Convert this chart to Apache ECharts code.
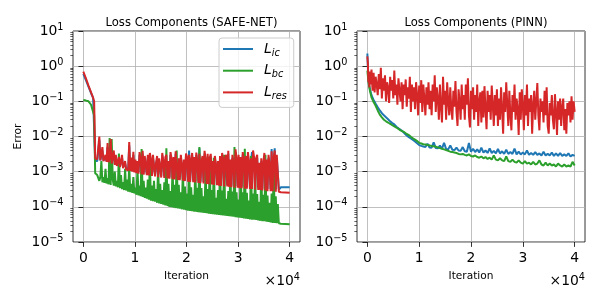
<!DOCTYPE html>
<html><head><meta charset="utf-8">
<script src="https://cdn.jsdelivr.net/npm/echarts@6/dist/echarts.min.js"></script>
<style>html,body{margin:0;padding:0;background:#fff}#c{width:600px;height:300px}</style>
</head><body><div id="c"></div>
<script>
// ---------- SAFE-NET (left panel) ----------
const safeIter = [0,500,1000,1500,1900,2100,2300,
2500,2700,2900,3100,3300,3500,3700,3900,4100,4300,
4500,4700,4900,5100,5300,5500,5700,5900,6100,6300,
6500,6700,6900,7100,7300,7500,7700,7900,8100,8300,
8500,8700,8900,9100,9300,9500,9700,9900,10100,10300,
10500,10700,10900,11100,11300,11500,11700,11900,12100,12300,
12500,12700,12900,13100,13300,13500,13700,13900,14100,14300,
14500,14700,14900,15100,15300,15500,15700,15900,16100,16300,
16500,16700,16900,17100,17300,17500,17700,17900,18100,18300,
18500,18700,18900,19100,19300,19500,19700,19900,20100,20300,
20500,20700,20900,21100,21300,21500,21700,21900,22100,22300,
22500,22700,22900,23100,23300,23500,23700,23900,24100,24300,
24500,24700,24900,25100,25300,25500,25700,25900,26100,26300,
26500,26700,26900,27100,27300,27500,27700,27900,28100,28300,
28500,28700,28900,29100,29300,29500,29700,29900,30100,30300,
30500,30700,30900,31100,31300,31500,31700,31900,32100,32300,
32500,32700,32900,33100,33300,33500,33700,33900,34100,34300,
34500,34700,34900,35100,35300,35500,35700,35900,36100,36300,
36500,36700,36900,37100,37300,37500,37700,37900,
38300,40000];
const safeIc = [0.60,0.40,0.26,0.17,0.125,0.11,2.0e-3,
2.0e-3,2.0e-3,2.0e-3,8.0e-3,2.1e-3,2.2e-3,4.0e-3,2.1e-3,2.1e-3,2.5e-3,
2.0e-3,5.0e-3,1.9e-3,2.2e-3,7.0e-3,1.8e-3,1.75e-3,3.2e-3,1.65e-3,2.5e-3,
1.55e-3,1.5e-3,2.2e-3,1.45e-3,1.4e-3,2.5e-3,1.35e-3,1.3e-3,1.7e-3,1.25e-3,
1.2e-3,1.2e-3,5.5e-3,1.15e-3,2.0e-3,1.1e-3,3.0e-3,1.05e-3,1.8e-3,1.0e-3,
1.7e-3,9.7e-4,3.0e-3,2.0e-3,9.2e-4,3.3e-3,9.0e-4,2.3e-3,1.4e-3,8.8e-4,
2.5e-3,8.6e-4,2.9e-3,1.8e-3,8.3e-4,2.5e-3,2.3e-3,8.0e-4,1.5e-3,2.3e-3,
7.7e-4,2.0e-3,1.2e-3,7.5e-4,2.9e-3,1.7e-3,7.3e-4,2.2e-3,2.5e-3,7.0e-4,
1.7e-3,6.9e-4,3.0e-3,2.0e-3,6.7e-4,2.2e-3,6.6e-4,3.2e-3,1.3e-3,6.4e-4,
2.0e-3,6.3e-4,2.5e-3,1.4e-3,6.1e-4,1.8e-3,5.9e-4,2.8e-3,2.2e-3,5.7e-4,
4.0e-3,5.6e-4,1.8e-3,2.9e-3,5.5e-4,2.2e-3,5.4e-4,3.0e-3,1.7e-3,5.3e-4,
4.6e-3,5.2e-4,1.7e-3,2.4e-3,5.1e-4,3.3e-3,1.8e-3,5.0e-4,2.7e-3,4.8e-4,
2.1e-3,2.7e-3,4.7e-4,1.7e-3,4.6e-4,2.4e-3,1.4e-3,4.5e-4,1.7e-3,4.4e-4,
2.4e-3,4.3e-4,2.9e-3,1.9e-3,4.2e-4,2.2e-3,2.5e-3,4.2e-4,3.3e-3,4.1e-4,
1.9e-3,4.0e-4,2.5e-3,1.5e-3,3.9e-4,3.6e-3,2.0e-3,3.9e-4,2.5e-3,3.8e-4,
2.2e-3,3.8e-4,3.0e-3,1.9e-3,3.7e-4,2.4e-3,3.7e-4,3.0e-3,1.7e-3,3.6e-4,
2.0e-3,3.6e-3,3.4e-3,2.2e-3,3.5e-4,2.0e-3,2.5e-3,3.4e-4,1.5e-3,3.4e-4,
2.0e-3,3.3e-4,1.5e-3,2.9e-3,3.3e-4,1.9e-3,3.2e-4,2.5e-3,1.4e-3,3.2e-4,
4.4e-3,3.1e-4,2.1e-3,4.6e-3,3.1e-4,2.5e-3,2.4e-3,3.1e-4,
3.6e-4,3.6e-4];
const safeBc = [0.11,0.105,0.10,0.08,0.05,0.04,9.0e-4,
8.5e-4,8.0e-4,7.5e-4,5.5e-4,7.0e-4,2.0e-3,5.0e-4,7.0e-4,4.8e-4,1.2e-3,
4.6e-4,6.5e-4,4.4e-4,9.0e-3,4.2e-4,8.5e-3,6.0e-4,4.0e-4,1.0e-3,3.8e-4,
5.5e-4,3.6e-4,3.3e-3,3.4e-4,8.0e-4,3.2e-4,5.0e-4,3.0e-4,1.2e-3,2.9e-4,
6.0e-4,2.7e-4,1.5e-3,2.6e-4,4.5e-4,2.5e-4,7.0e-4,2.4e-4,3.5e-4,2.2e-4,
1.2e-3,2.1e-4,4.0e-4,2.0e-4,4.4e-3,1.9e-4,5.5e-4,1.8e-4,3.5e-4,1.7e-4,
6.0e-4,1.6e-4,2.0e-3,1.5e-4,4.0e-4,1.45e-4,5.5e-4,1.4e-4,3.2e-4,1.3e-4,
1.5e-3,1.25e-4,4.5e-4,1.2e-4,3.0e-4,1.15e-4,5.0e-4,1.1e-4,4.6e-3,1.05e-4,
4.5e-4,1.0e-4,2.8e-4,9.8e-5,1.5e-3,9.5e-5,4.2e-4,9.2e-5,4.0e-3,9.0e-5,
4.2e-4,8.8e-5,2.6e-4,8.5e-5,1.2e-3,8.3e-5,3.8e-4,8.0e-5,2.4e-4,7.8e-5,
2.6e-3,7.6e-5,3.6e-4,7.5e-5,2.2e-4,7.3e-5,1.6e-3,7.2e-5,3.5e-4,7.0e-5,
5.0e-3,6.9e-5,3.4e-4,6.8e-5,2.0e-4,6.7e-5,1.5e-3,6.6e-5,3.2e-4,6.4e-5,
2.2e-3,6.3e-5,3.0e-4,6.2e-5,2.5e-3,6.1e-5,1.8e-4,6.0e-5,3.0e-4,5.9e-5,
1.8e-3,5.8e-5,2.9e-4,5.7e-5,3.0e-3,5.6e-5,1.7e-4,5.5e-5,2.8e-4,5.4e-5,
1.4e-3,5.3e-5,2.7e-4,5.2e-5,5.0e-3,5.1e-5,2.6e-4,5.0e-5,1.6e-4,4.9e-5,
2.0e-3,4.8e-5,2.6e-4,4.7e-5,4.5e-3,4.6e-5,2.5e-4,4.5e-5,1.5e-4,4.4e-5,
2.8e-3,4.3e-5,2.4e-4,4.3e-5,1.2e-3,4.2e-5,2.3e-4,4.1e-5,1.4e-4,4.0e-5,
1.5e-3,3.9e-5,2.2e-4,3.9e-5,3.0e-3,3.8e-5,2.1e-4,3.7e-5,1.3e-4,3.6e-5,
2.4e-4,3.5e-5,1.8e-3,3.5e-5,2.0e-4,3.4e-5,1.2e-4,3.4e-5,
3.3e-5,3.2e-5];
const safeRes = [0.70,0.45,0.28,0.18,0.125,0.10,2.4e-3,
2.3e-3,2.25e-3,2.2e-3,1.0e-2,2.1e-3,2.1e-3,5.0e-3,2.0e-3,2.0e-3,3.0e-3,
1.9e-3,6.5e-3,1.85e-3,2.5e-3,8.5e-3,1.7e-3,1.65e-3,4.0e-3,1.55e-3,3.0e-3,
1.45e-3,1.4e-3,2.6e-3,1.35e-3,1.3e-3,3.0e-3,1.25e-3,1.2e-3,2.0e-3,1.15e-3,
1.12e-3,1.1e-3,7.0e-3,1.05e-3,2.5e-3,1.0e-3,3.7e-3,9.5e-4,2.2e-3,9.0e-4,
2.0e-3,8.8e-4,3.6e-3,2.4e-3,8.4e-4,3.9e-3,8.2e-4,2.8e-3,1.6e-3,8.0e-4,
3.0e-3,7.8e-4,3.4e-3,2.2e-3,7.5e-4,3.0e-3,2.8e-3,7.3e-4,1.8e-3,2.8e-3,
7.0e-4,2.4e-3,1.4e-3,6.8e-4,3.4e-3,2.0e-3,6.6e-4,2.6e-3,3.0e-3,6.4e-4,
2.0e-3,6.3e-4,3.6e-3,2.4e-3,6.1e-4,2.6e-3,6.0e-4,3.8e-3,1.5e-3,5.8e-4,
2.4e-3,5.7e-4,3.0e-3,1.6e-3,5.5e-4,2.2e-3,5.4e-4,3.3e-3,2.6e-3,5.2e-4,
3.0e-3,5.1e-4,2.2e-3,3.4e-3,5.0e-4,2.6e-3,4.9e-4,3.5e-3,2.0e-3,4.8e-4,
3.2e-3,4.7e-4,2.0e-3,2.8e-3,4.6e-4,3.9e-3,2.2e-3,4.5e-4,3.2e-3,4.4e-4,
2.5e-3,3.2e-3,4.3e-4,2.0e-3,4.2e-4,2.8e-3,1.6e-3,4.1e-4,2.0e-3,4.0e-4,
2.8e-3,3.9e-4,3.4e-3,2.2e-3,3.8e-4,2.6e-3,3.0e-3,3.8e-4,3.9e-3,3.7e-4,
2.2e-3,3.6e-4,3.0e-3,1.8e-3,3.5e-4,4.3e-3,2.4e-3,3.5e-4,3.0e-3,3.4e-4,
2.6e-3,3.4e-4,3.6e-3,2.2e-3,3.3e-4,2.8e-3,3.3e-4,3.6e-3,2.0e-3,3.2e-4,
2.4e-3,3.2e-4,4.0e-3,2.6e-3,3.1e-4,2.4e-3,3.0e-3,3.0e-4,1.8e-3,3.0e-4,
2.4e-3,2.9e-4,1.8e-3,3.4e-3,2.9e-4,2.2e-3,2.8e-4,3.0e-3,1.6e-3,2.8e-4,
3.8e-3,2.8e-4,2.5e-3,4.0e-3,2.7e-4,3.0e-3,2.9e-3,2.7e-4,
2.6e-4,2.5e-4];

// ---------- PINN (right panel) ----------
const pinnIter = [0,150,300,500,
800,1200,1600,2000,2400,2800,3200,3600,4000,4400,4800,5200,5600,6000,6400,6800,7200,7600,8000,8400,8800,9200,9600,10000,
10400,10800,11200,11600,12000,12400,12800,13200,13600,14000,14400,14800,15200,15600,16000,16400,16800,17200,17600,18000,
18400,18800,19200,19600,20000,20400,20800,21200,21600,22000,22400,22800,23200,23600,24000,24400,24800,25200,25600,26000,
26400,26800,27200,27600,28000,28400,28800,29200,29600,30000,30400,30800,31200,31600,32000,32400,32800,33200,33600,34000,
34400,34800,35200,35600,36000,36400,36800,37200,37600,38000,38400,38800,39200,39600,40000];
const pinnIc = [2.3,0.6,0.3,0.22,
0.15,0.11,0.085,0.068,0.055,0.046,0.04,0.035,0.031,0.027,0.024,0.022,0.019,0.017,0.0155,0.014,0.0122,0.0107,0.0096,0.0088,0.008,0.0072,0.0064,0.0057,
0.0054,0.0052,0.005,0.0062,0.0049,0.0048,0.0068,0.0047,0.0046,0.0055,0.0045,0.0066,0.0044,0.0043,0.0056,0.0042,0.0041,0.0048,0.004,0.0039,
0.005,0.0038,0.0037,0.0065,0.0037,0.0045,0.0036,0.0043,0.0035,0.0048,0.0035,0.004,0.0034,0.0046,0.0034,0.0039,0.0033,0.0044,0.0033,0.0038,
0.0032,0.0042,0.0032,0.0036,0.0032,0.0045,0.0031,0.0037,0.0031,0.0035,0.0031,0.004,0.003,0.0034,0.003,0.0036,0.003,0.0033,0.0029,0.0037,
0.0029,0.0032,0.0029,0.0035,0.0028,0.0033,0.0028,0.0034,0.0028,0.0031,0.0028,0.0033,0.0027,0.003,0.0028];
const pinnBc = [0.75,0.45,0.3,0.2,
0.13,0.095,0.075,0.055,0.042,0.035,0.03,0.027,0.025,0.023,0.021,0.0195,0.018,0.0165,0.015,0.014,0.013,0.0118,0.011,0.0098,0.0088,0.0082,0.0074,0.0066,
0.0063,0.006,0.0059,0.0057,0.0056,0.0054,0.0053,0.0051,0.0049,0.0047,0.0045,0.0043,0.0041,0.0039,0.0037,0.0036,0.0035,0.0034,0.0032,0.0031,
0.0032,0.003,0.0029,0.0031,0.0028,0.0027,0.0029,0.0026,0.0025,0.0027,0.0024,0.0026,0.0023,0.0025,0.0022,0.0029,0.0022,0.0021,0.0024,0.0021,
0.002,0.0027,0.002,0.0019,0.0022,0.0019,0.0018,0.0021,0.0018,0.0017,0.002,0.0017,0.0018,0.0016,0.0019,0.0016,0.0017,0.0021,0.0016,0.0015,
0.0018,0.0015,0.0017,0.0015,0.0016,0.0014,0.0017,0.0015,0.0014,0.0016,0.0014,0.0015,0.0014,0.0019,0.0015];
const pinnResIter = [0,100,200,300,400,500,
600,800,1000,1200,1400,1600,1800,2000,2200,2400,
2600,2800,3000,3200,3400,3600,3800,4000,4200,4400,
4600,4800,5000,5200,5400,5600,5800,6000,6200,6400,
6600,6800,7000,7200,7400,7600,7800,8000,8200,8400,
8600,8800,9000,9200,9400,9600,9800,10000,10200,10400,
10600,10800,11000,11200,11400,11600,11800,12000,12200,12400,
12600,12800,13000,13200,13400,13600,13800,14000,14200,14400,
14600,14800,15000,15200,15400,15600,15800,16000,16200,16400,
16600,16800,17000,17200,17400,17600,17800,18000,18200,18400,
18600,18800,19000,19200,19400,19600,19800,20000,20200,20400,
20600,20800,21000,21200,21400,21600,21800,22000,22200,22400,
22600,22800,23000,23200,23400,23600,23800,24000,24200,24400,
24600,24800,25000,25200,25400,25600,25800,26000,26200,26400,
26600,26800,27000,27200,27400,27600,27800,28000,28200,28400,
28600,28800,29000,29200,29400,29600,29800,30000,30200,30400,
30600,30800,31000,31200,31400,31600,31800,32000,32200,32400,
32600,32800,33000,33200,33400,33600,33800,34000,34200,34400,
34600,34800,35000,35200,35400,35600,35800,36000,36200,36400,
36600,36800,37000,37200,37400,37600,37800,38000,38200,38400,
38600,38800,39000,39200,39400,39600,39800,40000];
const pinnRes = [1.9,1.2,0.35,0.5,0.25,0.7,
0.3,0.8,0.2,0.65,0.18,0.5,0.3,0.15,0.6,0.22,
0.9,0.12,0.45,0.2,0.55,0.1,0.35,0.25,0.09,0.5,
0.2,0.4,0.12,0.75,0.15,0.3,0.08,0.45,0.2,0.1,
0.35,0.06,0.3,0.15,0.42,0.07,0.25,0.12,0.5,0.05,
0.3,0.1,0.25,0.06,0.35,0.15,0.04,0.28,0.09,0.4,
0.05,0.3,0.12,0.04,0.25,0.08,0.35,0.06,0.2,0.04,
0.3,0.1,0.55,0.05,0.25,0.12,0.03,0.3,0.07,0.025,
0.5,0.08,0.2,0.03,0.35,0.1,0.04,0.25,0.06,0.03,
0.2,0.07,0.38,0.05,0.02,0.22,0.1,0.03,0.3,0.06,
0.15,0.03,0.3,0.08,0.45,0.04,0.018,0.2,0.06,0.25,
0.03,0.15,0.05,0.3,0.02,0.1,0.18,0.025,0.2,0.035,
0.27,0.06,0.016,0.2,0.05,0.15,0.03,0.28,0.08,0.02,
0.15,0.04,0.22,0.02,0.12,0.03,0.25,0.06,0.012,0.18,
0.05,0.35,0.08,0.02,0.2,0.04,0.015,0.15,0.05,0.3,
0.03,0.12,0.06,0.011,0.18,0.03,0.22,0.08,0.015,0.15,
0.04,0.3,0.02,0.12,0.05,0.15,0.012,0.08,0.2,0.03,
0.1,0.33,0.04,0.015,0.12,0.05,0.1,0.025,0.2,0.04,
0.25,0.02,0.012,0.09,0.04,0.15,0.03,0.016,0.16,0.05,
0.011,0.1,0.03,0.12,0.02,0.07,0.12,0.015,0.06,0.012,
0.09,0.04,0.1,0.025,0.14,0.03,0.1,0.05];

// ---------- ticks / labels ----------
const xTickValues = [0,10000,20000,30000,40000];
const yTickValues = [1e-5,1e-4,1e-3,1e-2,1e-1,1,10];
const seriesNames = ['L_ic','L_bc','L_res'];
const seriesSub = {L_ic:'ic', L_bc:'bc', L_res:'res'};
const panelTitles = ['Loss Components (SAFE-NET)','Loss Components (PINN)'];
const colors = ['#1f77b4','#2ca02c','#d62728'];

const minorTicks = [];
for (let e = -5; e <= 0; e++) for (let m = 2; m <= 9; m++) minorTicks.push(m * Math.pow(10, e));

const FONT = 'DejaVu Sans';
const TICK_FS = 13.9;
const supRich = { sup: { fontSize: 9.7, fontFamily: FONT, color: '#000', verticalAlign: 'top', lineHeight: 8 } };

function pairs(xs, ys) { return xs.map((x, i) => [x, ys[i]]); }
function expLabel(v) {
  const e = Math.round(Math.log10(v));
  return '10{sup|' + (e < 0 ? '\u2212' + (-e) : String(e)) + '}';
}

function xAxisFor(gi) {
  return {
    type: 'value', gridIndex: gi, min: -2000, max: 42000,
    name: 'Iteration', nameLocation: 'middle', nameGap: 27,
    nameTextStyle: { fontFamily: FONT, fontSize: 10.6, color: '#000' },
    axisLine: { show: false },
    axisTick: { show: true, customValues: xTickValues, length: 4.9, lineStyle: { color: '#000', width: 0.8 } },
    axisLabel: { customValues: xTickValues, margin: 9.5, fontFamily: FONT, fontSize: TICK_FS, color: '#000',
                 formatter: v => String(Math.round(v / 10000)) },
    splitLine: { show: true, lineStyle: { color: '#b0b0b0', width: 0.8 } }
  };
}
function yAxisFor(gi, withName) {
  return {
    type: 'log', logBase: 10, gridIndex: gi, min: 1e-5, max: 10,
    name: withName ? 'Error' : '', nameLocation: 'middle', nameGap: 49,
    nameTextStyle: { fontFamily: FONT, fontSize: 10.6, color: '#000' },
    axisLine: { show: false },
    axisTick: { show: true, customValues: yTickValues, length: 4.9, lineStyle: { color: '#000', width: 0.8 } },
    axisLabel: { customValues: yTickValues, margin: 9.5, fontFamily: FONT, fontSize: TICK_FS, color: '#000',
                 lineHeight: 18, formatter: expLabel, rich: supRich },
    splitLine: { show: true, lineStyle: { color: '#b0b0b0', width: 0.8 } }
  };
}
function yMinorFor(gi) {
  return {
    type: 'log', logBase: 10, gridIndex: gi, min: 1e-5, max: 10, position: 'left',
    axisLine: { show: false }, axisLabel: { show: false }, splitLine: { show: false },
    axisTick: { show: true, customValues: minorTicks, length: 2.7, lineStyle: { color: '#000', width: 0.6 } }
  };
}
function lineSeries(name, color, xs, ys, xi, yi) {
  return {
    type: 'line', name: name, xAxisIndex: xi, yAxisIndex: yi,
    data: pairs(xs, ys), showSymbol: false, symbol: 'none',
    lineStyle: { color: color, width: 2 }, itemStyle: { color: color },
    emphasis: { disabled: true }, animation: false
  };
}

const chart = echarts.init(document.getElementById('c'), null, { renderer: 'canvas' });
chart.setOption({
  animation: false,
  backgroundColor: '#fff',
  title: [
    { text: panelTitles[0], left: 186.5, top: 12, textAlign: 'center',
      textStyle: { fontFamily: FONT, fontSize: 11.6, fontWeight: 'normal', color: '#000' } },
    { text: panelTitles[1], left: 471, top: 12, textAlign: 'center',
      textStyle: { fontFamily: FONT, fontSize: 11.6, fontWeight: 'normal', color: '#000' } }
  ],
  grid: [
    { left: 73, top: 31, width: 227, height: 211, show: true, borderColor: '#000', borderWidth: 0.8, backgroundColor: 'transparent' },
    { left: 357, top: 31, width: 228, height: 211, show: true, borderColor: '#000', borderWidth: 0.8, backgroundColor: 'transparent' }
  ],
  xAxis: [xAxisFor(0), xAxisFor(1)],
  yAxis: [yAxisFor(0, true), yMinorFor(0), yAxisFor(1, false), yMinorFor(1)],
  legend: {
    data: seriesNames, orient: 'vertical', left: 219, top: 38,
    itemWidth: 30, itemHeight: 2, itemGap: 5.7, icon: 'rect',
    padding: [4, 7, 6, 4],
    backgroundColor: 'rgba(255,255,255,0.8)', borderColor: '#cccccc', borderWidth: 1, borderRadius: 3,
    selectedMode: false,
    formatter: n => '{i|L}{s|' + seriesSub[n] + '}',
    textStyle: {
      rich: {
        i: { fontFamily: FONT, fontStyle: 'italic', fontSize: 13.9, color: '#000', lineHeight: 18, padding: [0, 0, 0, 6] },
        s: { fontFamily: FONT, fontStyle: 'italic', fontSize: 9.7, color: '#000', lineHeight: 9, verticalAlign: 'bottom' }
      }
    }
  },
  graphic: [
    { type: 'text', x: 300, y: 281, silent: true,
      style: { text: '\u00d710{sup|4}', align: 'right', verticalAlign: 'middle', fontFamily: FONT, fontSize: TICK_FS, fill: '#000', lineHeight: 18, rich: supRich } },
    { type: 'text', x: 585, y: 281, silent: true,
      style: { text: '\u00d710{sup|4}', align: 'right', verticalAlign: 'middle', fontFamily: FONT, fontSize: TICK_FS, fill: '#000', lineHeight: 18, rich: supRich } }
  ],
  series: [
    lineSeries(seriesNames[0], colors[0], safeIter, safeIc, 0, 0),
    lineSeries(seriesNames[1], colors[1], safeIter, safeBc, 0, 0),
    lineSeries(seriesNames[2], colors[2], safeIter, safeRes, 0, 0),
    lineSeries(seriesNames[0], colors[0], pinnIter, pinnIc, 1, 2),
    lineSeries(seriesNames[1], colors[1], pinnIter, pinnBc, 1, 2),
    lineSeries(seriesNames[2], colors[2], pinnResIter, pinnRes, 1, 2)
  ]
});
</script>
</body></html>
